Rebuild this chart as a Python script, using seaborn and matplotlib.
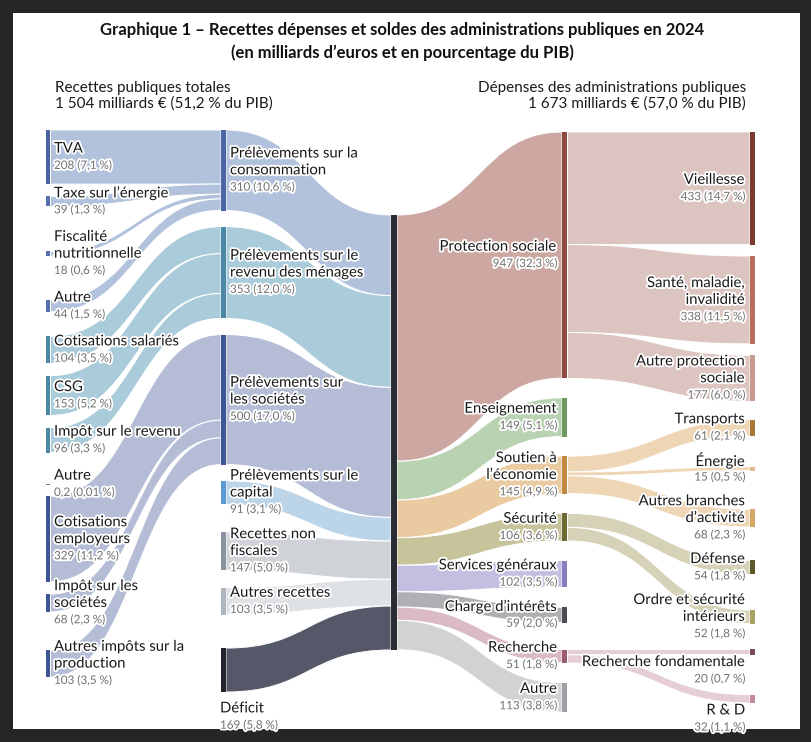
"""Sankey: recettes, dépenses et solde des administrations publiques en 2024."""

import matplotlib

matplotlib.use("Agg")
import matplotlib.patheffects as pe
import matplotlib.pyplot as plt
import seaborn as sns
from matplotlib.patches import PathPatch, Rectangle
from matplotlib.path import Path

# ---- data: milliards d'euros and % du PIB ----
source_labels = [
    "TVA", "Taxe sur l’énergie", "Fiscalité\nnutritionnelle", "Autre",
    "Cotisations salariés", "CSG", "Impôt sur le revenu", "Autre",
    "Cotisations\nemployeurs", "Impôt sur les\nsociétés",
    "Autres impôts sur la\nproduction",
]
source_values = [208, 39, 18, 44, 104, 153, 96, 0.2, 329, 68, 103]
source_pcts = [7.1, 1.3, 0.6, 1.5, 3.5, 5.2, 3.3, 0.01, 11.2, 2.3, 3.5]
source_parent = [0, 0, 0, 0, 1, 1, 1, 2, 2, 2, 2]

receipt_labels = [
    "Prélèvements sur la\nconsommation", "Prélèvements sur le\nrevenu des ménages",
    "Prélèvements sur\nles sociétés", "Prélèvements sur le\ncapital",
    "Recettes non\nfiscales", "Autres recettes", "Déficit",
]
receipt_values = [310, 353, 500, 91, 147, 103, 169]
receipt_pcts = [10.6, 12.0, 17.0, 3.1, 5.0, 3.5, 5.8]

total_receipts = 1504
total_receipts_pct = 51.2
total_spending = 1673
total_spending_pct = 57.0

function_labels = [
    "Protection sociale", "Enseignement", "Soutien à\nl’économie", "Sécurité",
    "Services généraux", "Charge d’intérêts", "Recherche", "Autre",
]
function_values = [947, 149, 145, 106, 102, 59, 51, 113]
function_pcts = [32.3, 5.1, 4.9, 3.6, 3.5, 2.0, 1.8, 3.8]

detail_labels = [
    "Vieillesse", "Santé, maladie,\ninvalidité", "Autre protection\nsociale",
    "Transports", "Énergie", "Autres branches\nd’activité", "Défense",
    "Ordre et sécurité\nintérieurs", "Recherche fondamentale", "R & D",
]
detail_values = [433, 338, 177, 61, 15, 68, 54, 52, 20, 32]
detail_pcts = [14.7, 11.5, 6.0, 2.1, 0.5, 2.3, 1.8, 1.8, 0.7, 1.1]
detail_parent = [0, 0, 0, 2, 2, 2, 3, 3, 6, 6]

# ---- styles ----
source_colors = ["#4c64a4", "#5870ad", "#5870ad", "#5870ad", "#4a88a3", "#4a88a3",
                 "#4a88a3", "#7583aa", "#3e5596", "#3e5596", "#3e5596"]
receipt_colors = ["#4a64a4", "#4a88a3", "#3e5596", "#5a9ad0", "#8a94a0", "#b0b6be", "#23242e"]
receipt_flow_colors = ["#b3c2dc", "#aacbd9", "#b4bcd6", "#bcd4e8", "#cfd3d8", "#dee2e6", "#555868"]
center_color = "#2b2d35"
function_colors = ["#8e4a40", "#6e9a62", "#c08a42", "#6e6a34", "#8a7cc0", "#4c4c54", "#9a5a70", "#a0a0a4"]
function_flow_colors = ["#cda8a3", "#b9d3b2", "#eacaa0", "#c7c49c", "#c4bee0", "#b0b0b4", "#dabac6", "#d2d2d2"]
function_sub_flow_colors = ["#dcc4c0", "#dcc4c0", "#eed6b4", "#d6d2b8", "#d6d2b8", "#d6d2b8", "#e6ced6", "#e6ced6"]
detail_colors = ["#7a3a30", "#b86e5c", "#c89a90", "#a87838", "#dcbc8c", "#d4a866",
                 "#5c5a2c", "#aaa464", "#7a4a5e", "#c48ca2"]
detail_anchor = ["center"] * 8 + ["under", "under"]
receipt_anchor = ["center"] * 6 + ["below"]

SCALE = 0.26      # pixels per milliard
LINE = 16.8       # label line pitch
PAD = 8
BREAK = 30
COL_X = [46, 221, 391, 562, 750]
COL_W = [4.5, 5, 6, 5.5, 5]
CENTER_TOP = 215
NAME_COLOR = "#1a1a1a"
VALUE_COLOR = "#707070"
NNBSP = "\u202f"

sns.set_theme(style="white")
plt.rcParams["font.family"] = ["Lato", "DejaVu Sans"]
halo = [pe.withStroke(linewidth=2.6, foreground="white")]


def fmt(value, pct):
    v = f"{value:g}".replace(".", ",")
    p = f"{pct:.1f}" if round(pct, 1) == pct else f"{pct:.2f}"
    return f"{v} ({p.replace('.', ',')}{NNBSP}%)"


def label_top(anchor, t, h, block):
    if anchor == "center":
        return t + h / 2 - block / 2
    if anchor == "under":
        return t + h - 1
    return t + h + 8


def stack_column(values, labels, anchors, top, bottom, min_gap):
    """Place bars top-down so that labels never collide, then fit the span."""
    heights = [v * SCALE for v in values]
    tops = []
    node_end = label_end = 0
    for h, lab, anc in zip(heights, labels, anchors):
        block = (lab.count("\n") + 2) * LINE
        if not tops:
            t = top
        else:
            t = node_end + min_gap
            if anc == "center":
                t = max(t, label_end + PAD - h / 2 + block / 2)
            elif anc == "under":
                t = max(t, label_end + PAD)
            else:
                t = max(t, label_end + BREAK)
        tops.append(t)
        node_end = t + h
        label_end = label_top(anc, t, h, block) + block
    slack = bottom - node_end
    n = len(tops)
    tops = [t + slack * i / (n - 1) for i, t in enumerate(tops)]
    return tops, heights


def band(ax, x0, x1, y0, y1, w, color):
    xm = (x0 + x1) / 2
    verts = [(x0, y0), (xm, y0), (xm, y1), (x1, y1), (x1, y1 + w),
             (xm, y1 + w), (xm, y0 + w), (x0, y0 + w), (x0, y0)]
    codes = [Path.MOVETO, Path.CURVE4, Path.CURVE4, Path.CURVE4, Path.LINETO,
             Path.CURVE4, Path.CURVE4, Path.CURVE4, Path.CLOSEPOLY]
    ax.add_patch(PathPatch(Path(verts, codes), facecolor=color,
                           edgecolor="white", lw=0.7, zorder=1))


def draw_label(ax, x, top, h, label, value, pct, anchor, ha):
    lines = label.split("\n")
    y0 = label_top(anchor, top, h, (len(lines) + 1) * LINE)
    for k, line in enumerate(lines):
        ax.text(x, y0 + (k + 0.5) * LINE, line, ha=ha, va="center", fontsize=10.7,
                color=NAME_COLOR, path_effects=halo, zorder=5)
    ax.text(x, y0 + (len(lines) + 0.5) * LINE, fmt(value, pct), ha=ha, va="center",
            fontsize=8.4, color=VALUE_COLOR, path_effects=halo, zorder=5)


def bars(ax, col, tops, heights, colors):
    for t, h, c in zip(tops, heights, colors):
        ax.add_patch(Rectangle((COL_X[col], t), COL_W[col], max(h, 0.6),
                               facecolor=c, edgecolor="none", zorder=3))


def total_line(value, pct):
    return (f"{value:,}".replace(",", NNBSP) + f"{NNBSP}milliards{NNBSP}€ ("
            + f"{pct:.1f}".replace(".", ",") + f"{NNBSP}% du PIB)")


fig = plt.figure(figsize=(8.12, 7.42), dpi=100)
fig.patch.set_facecolor("#262626")
ax = fig.add_axes([0, 0, 1, 1])
ax.set_xlim(0, 812)
ax.set_ylim(742, 0)
ax.axis("off")
ax.add_patch(Rectangle((13, 13), 787, 716, facecolor="white", edgecolor="none", zorder=0))

src_top, src_h = stack_column(source_values, source_labels, ["center"] * 11, 130, 677, 10)
rec_top, rec_h = stack_column(receipt_values, receipt_labels, receipt_anchor, 130, 692, 16)
fun_top, fun_h = stack_column(function_values, function_labels, ["center"] * 8, 132, 712, 20)
det_top, det_h = stack_column(detail_values, detail_labels, detail_anchor, 132, 703, 12)

# sources -> receipt categories
filled = [0.0] * len(receipt_values)
for i, p in enumerate(source_parent):
    band(ax, COL_X[0] + COL_W[0], COL_X[1], src_top[i], rec_top[p] + filled[p],
         src_h[i], receipt_flow_colors[p])
    filled[p] += src_h[i]

# receipt categories -> total spending
acc = CENTER_TOP
for j, h in enumerate(rec_h):
    band(ax, COL_X[1] + COL_W[1], COL_X[2], rec_top[j], acc, h, receipt_flow_colors[j])
    acc += h

# total spending -> functions
acc = CENTER_TOP
for k, h in enumerate(fun_h):
    band(ax, COL_X[2] + COL_W[2], COL_X[3], acc, fun_top[k], h, function_flow_colors[k])
    acc += h

# functions -> details
used = [0.0] * len(function_values)
for m, p in enumerate(detail_parent):
    band(ax, COL_X[3] + COL_W[3], COL_X[4], fun_top[p] + used[p], det_top[m],
         det_h[m], function_sub_flow_colors[p])
    used[p] += det_h[m]

bars(ax, 0, src_top, src_h, source_colors)
bars(ax, 1, rec_top, rec_h, receipt_colors)
bars(ax, 2, [CENTER_TOP], [total_spending * SCALE], [center_color])
bars(ax, 3, fun_top, fun_h, function_colors)
bars(ax, 4, det_top, det_h, detail_colors)

for i, lab in enumerate(source_labels):
    draw_label(ax, COL_X[0] + 8, src_top[i], src_h[i], lab, source_values[i],
               source_pcts[i], "center", "left")
for j, lab in enumerate(receipt_labels):
    x = COL_X[1] + 9 if receipt_anchor[j] == "center" else COL_X[1] - 1
    draw_label(ax, x, rec_top[j], rec_h[j], lab, receipt_values[j],
               receipt_pcts[j], receipt_anchor[j], "left")
for k, lab in enumerate(function_labels):
    draw_label(ax, COL_X[3] - 5, fun_top[k], fun_h[k], lab, function_values[k],
               function_pcts[k], "center", "right")
for m, lab in enumerate(detail_labels):
    draw_label(ax, COL_X[4] - 5, det_top[m], det_h[m], lab, detail_values[m],
               detail_pcts[m], detail_anchor[m], "right")

# titles and headers
ax.text(402, 30, "Graphique 1 – Recettes dépenses et soldes des administrations publiques en 2024",
        ha="center", va="center", fontsize=12.0, fontweight="bold", color="#111")
ax.text(402, 53, "(en milliards d’euros et en pourcentage du PIB)",
        ha="center", va="center", fontsize=12.0, fontweight="bold", color="#111")
ax.text(55, 88, "Recettes publiques totales", ha="left", va="center",
        fontsize=11, color="#1a1a1a")
ax.text(55, 104, total_line(total_receipts, total_receipts_pct),
        ha="left", va="center", fontsize=11, color="#1a1a1a")
ax.text(746, 88, "Dépenses des administrations publiques", ha="right", va="center",
        fontsize=11, color="#1a1a1a")
ax.text(746, 104, total_line(total_spending, total_spending_pct),
        ha="right", va="center", fontsize=11, color="#1a1a1a")

fig.savefig("out.png", dpi=100, facecolor=fig.get_facecolor())
